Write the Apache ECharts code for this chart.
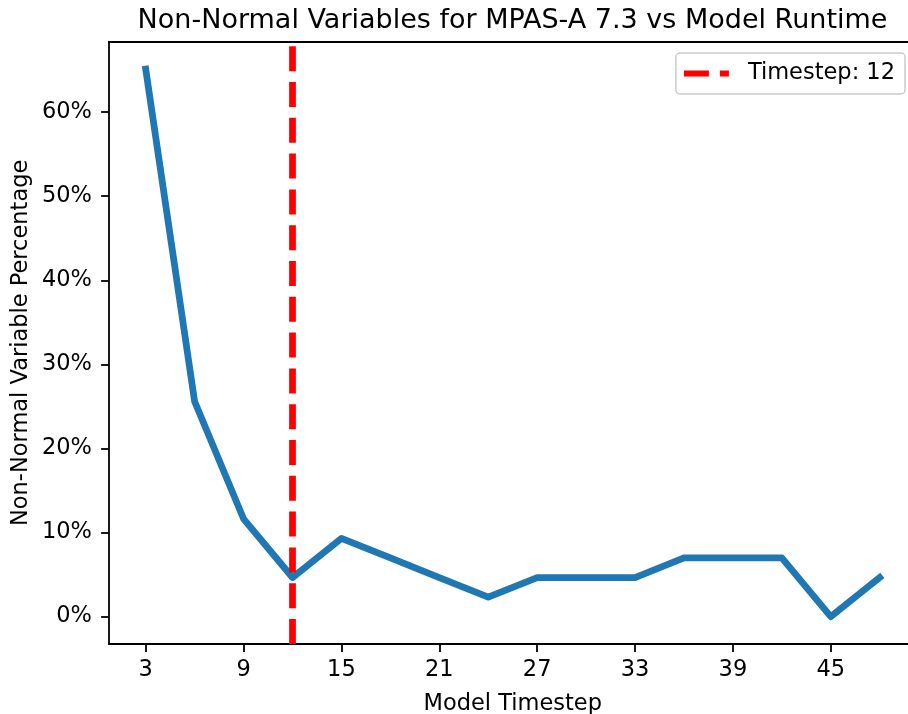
<!DOCTYPE html>
<html>
<head>
<meta charset="utf-8">
<script src="https://cdn.jsdelivr.net/npm/echarts@6/dist/echarts.min.js"></script>
<style>html,body{margin:0;padding:0;background:#fff}#c{width:908px;height:714px}</style>
</head>
<body>
<div id="c"></div>
<script>
const titleText = 'Non-Normal Variables for MPAS-A 7.3 vs Model Runtime';
const xLabel = 'Model Timestep';
const yLabel = 'Non-Normal Variable Percentage';
const timesteps = [3, 6, 9, 12, 15, 18, 21, 24, 27, 30, 33, 36, 39, 42, 45, 48];
const pct = [65.12, 25.58, 11.63, 4.65, 9.30, 6.98, 4.65, 2.33, 4.65, 4.65, 4.65, 6.98, 6.98, 6.98, 0, 4.65];
const xTicks = [3, 9, 15, 21, 27, 33, 39, 45];
const yTicks = [0, 10, 20, 30, 40, 50, 60];
const markerStep = 12;
const markerName = 'Timestep: 12';

const xMin = 0.75, xMax = 50.25;
const yMin = -3.256, yMax = 68.37;
const F = 'DejaVu Sans';
const FS = 22.5;

const gridLeft = 109, gridTop = 41.7, gridWidth = 807.4, gridHeight = 602.3;

const chart = echarts.init(document.getElementById('c'), null, {renderer: 'canvas'});
chart.setOption({
  animation: false,
  backgroundColor: '#fff',
  textStyle: {fontFamily: F},
  graphic: [{
    type: 'text', x: 512.5, y: 7, z: 100,
    style: {text: titleText, align: 'center', verticalAlign: 'top', fontFamily: F, fontSize: 27, fill: '#000'}
  }],
  legend: {
    right: 3, top: 53,
    padding: [9, 10, 9, 8],
    borderColor: '#cccccc', borderWidth: 1.5, borderRadius: 4,
    backgroundColor: '#fff',
    itemWidth: 45, itemHeight: 6, itemGap: 0,
    textStyle: {fontFamily: F, fontSize: FS, color: '#000', padding: [0, 0, 0, 14]},
    data: [{name: markerName, icon: 'path://M0,0h25v6h-25z M36,0h9v6h-9z', itemStyle: {color: '#ff0000'}}]
  },
  grid: {left: gridLeft, top: gridTop, width: gridWidth, height: gridHeight, containLabel: false, outerBoundsMode: 'none'},
  xAxis: [{
    type: 'value', min: xMin, max: xMax, position: 'bottom',
    name: xLabel, nameLocation: 'middle', nameGap: 49, nameMoveOverlap: false,
    nameTextStyle: {fontFamily: F, fontSize: FS, color: '#000'},
    axisLine: {show: true, onZero: false, lineStyle: {color: '#000', width: 1.8}},
    axisTick: {show: true, length: 7.9, lineStyle: {color: '#000', width: 1.8}, customValues: xTicks},
    axisLabel: {fontFamily: F, fontSize: FS, color: '#000', margin: 15, customValues: xTicks},
    splitLine: {show: false}
  }, {
    type: 'value', min: xMin, max: xMax, position: 'top',
    axisLine: {show: true, onZero: false, lineStyle: {color: '#000', width: 1.8}},
    axisTick: {show: false}, axisLabel: {show: false}, splitLine: {show: false}
  }],
  yAxis: {
    type: 'value', min: yMin, max: yMax,
    name: yLabel, nameLocation: 'middle', nameGap: 76, nameRotate: 90, nameMoveOverlap: false,
    nameTextStyle: {fontFamily: F, fontSize: FS, color: '#000'},
    axisLine: {show: true, onZero: false, lineStyle: {color: '#000', width: 1.8}},
    axisTick: {show: true, length: 7.9, lineStyle: {color: '#000', width: 1.8}, customValues: yTicks},
    axisLabel: {fontFamily: F, fontSize: FS, color: '#000', margin: 17, customValues: yTicks, formatter: v => v + '%'},
    splitLine: {show: false}
  },
  series: [
    {
      type: 'line', name: 'pct', symbol: 'none', z: 2,
      data: timesteps.map((t, i) => [t, pct[i]]),
      lineStyle: {color: '#1f77b4', width: 6.75, cap: 'square', join: 'round'}
    },
    {
      type: 'line', name: markerName, symbol: 'none', z: 3,
      data: [[markerStep, yMin], [markerStep, yMax]],
      itemStyle: {color: '#ff0000'},
      lineStyle: {color: '#ff0000', width: 6.75, type: [25, 10.8], cap: 'butt'}
    }
  ]
});
</script>
</body>
</html>
